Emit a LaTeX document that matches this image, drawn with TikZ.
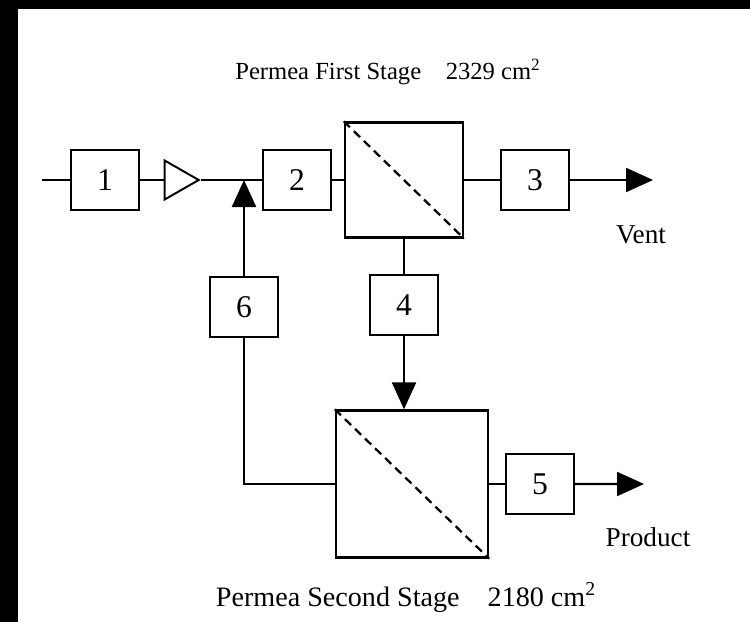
\documentclass[tikz,border=0pt]{standalone}
\usepackage{fontspec}
\setmainfont{Liberation Serif}
\usepackage{tikz}
\usetikzlibrary{arrows.meta,shapes.geometric}

\begin{document}
\begin{tikzpicture}[node distance=2cm, >={Triangle[length=0.54cm,width=0.48cm]},
    block/.style={rectangle, draw, line width=1.3pt, minimum height=1.2cm,
                  minimum width=1.36cm, inner sep=0pt, font=\fontsize{18}{20}\selectfont},
    membrane/.style={rectangle, draw, line width=1.3pt, inner sep=0pt},
    amp/.style={isosceles triangle, isosceles triangle stretches, draw, line width=1.1pt,
                minimum width=0.78cm, minimum height=0.68cm, inner sep=0pt},
    diag/.style={line width=1.3pt, dash pattern=on 0.17cm off 0.11cm},
    label/.style={font=\fontsize{15.5}{18}\selectfont},
    title/.style={font=\fontsize{14}{16}\selectfont},
    line/.style={line width=1.3pt},
    arrow/.style={->, line width=1.3pt}]
    \fill[black] (0,0) rectangle (15,-12.44);
    \fill[white] (0.36,-0.18) rectangle (15,-12.44);
    \useasboundingbox (0,0) rectangle (15,-12.44);
    \node[title] (stage1) at (7.76,-1.44) {Permea First Stage\quad 2329 cm\textsuperscript{2}};
    \coordinate (feed) at (0.84,-3.6);
    \node[block] (b1) at (2.1,-3.6) {1};
    \node[amp, right of=b1, node distance=1.42cm] (comp) {};
    \coordinate (mix) at (4.88,-3.6);
    \node[block, right of=b1, node distance=3.84cm] (b2) {2};
    \node[membrane, minimum width=2.36cm, minimum height=2.3cm, right of=b2, node distance=2.14cm] (mem1) {};
    \node[block, right of=mem1, node distance=2.62cm] (b3) {3};
    \coordinate (vent) at (13.06,-3.6);
    \node[label] (ventlbl) at (12.82,-4.7) {Vent};
    \node[block, below of=mem1, node distance=2.5cm] (b4) {4};
    \node[block, below of=mix, node distance=2.54cm] (b6) {6};
    \node[membrane, minimum width=3.04cm, minimum height=2.94cm, below of=b4, node distance=3.58cm, xshift=0.16cm] (mem2) {};
    \node[block, right of=mem2, node distance=2.56cm] (b5) {5};
    \coordinate (prod) at (12.88,-9.68);
    \node[label] (prodlbl) at (12.96,-10.74) {Product};
    \node[title, font=\fontsize{16}{18}\selectfont] (stage2) at (8.12,-11.96) {Permea Second Stage\quad 2180 cm\textsuperscript{2}};
    \draw[line] (feed) -- (b1);
    \draw[line] (b1) -- (comp);
    \draw[line] (comp) -- (b2);
    \draw[line] (b2) -- (mem1);
    \draw[line] (mem1) -- (b3);
    \draw[arrow] (b3) -- (vent);
    \draw[diag] (mem1.north west) -- (mem1.south east);
    \draw[line] (mem1) -- (b4);
    \draw[arrow] (b4) -- (b4 |- mem2.north);
    \draw[arrow] (b6) -- (mix);
    \draw[line] (b6) |- (mem2);
    \draw[diag] (mem2.north west) -- (mem2.south east);
    \draw[line] (mem2) -- (b5);
    \draw[arrow] (b5) -- (prod);
\end{tikzpicture}
\end{document}
